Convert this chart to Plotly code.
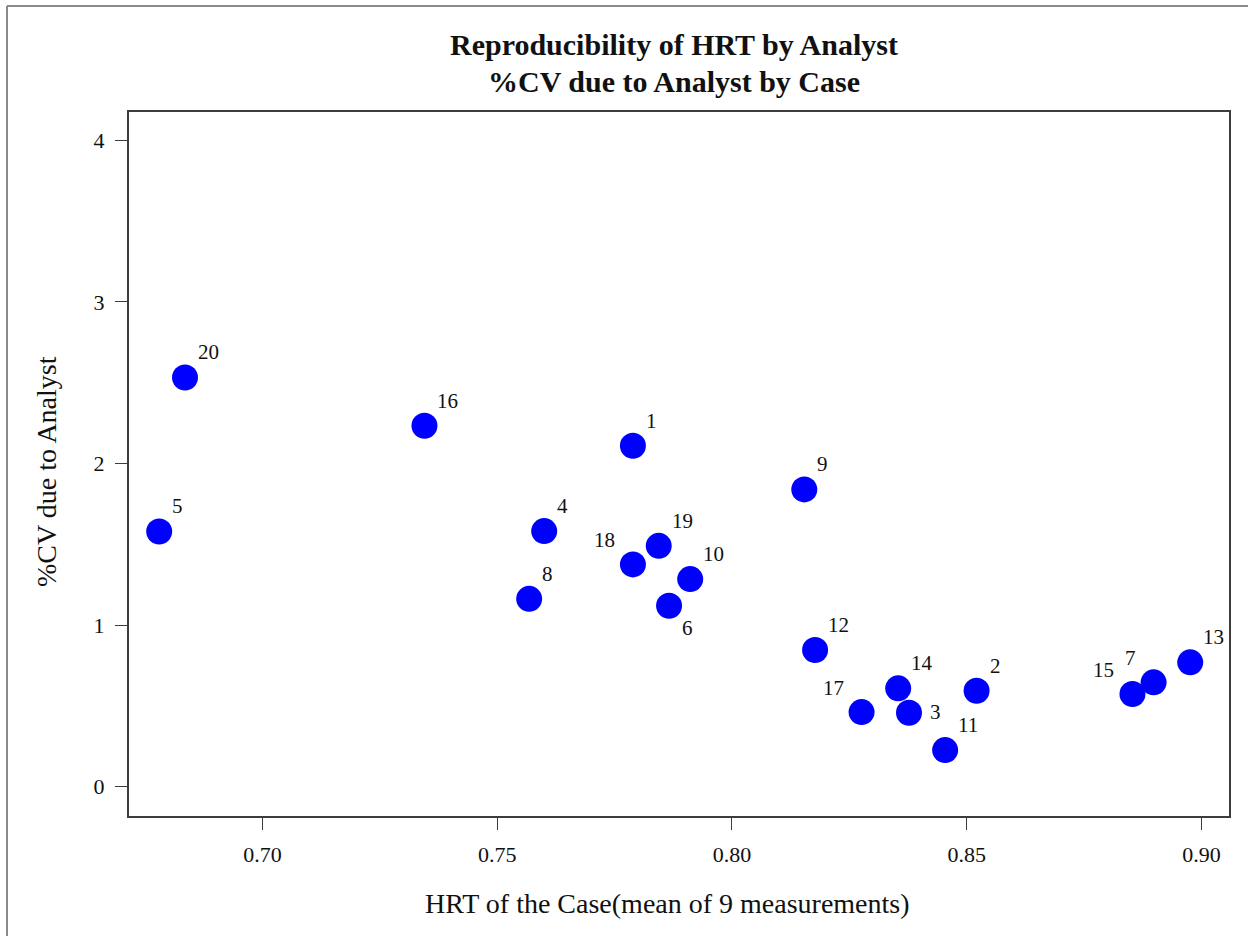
import plotly.graph_objects as go

# Data
case_ids = [20, 5, 16, 1, 4, 8, 18, 19, 10, 6, 9, 12, 17, 14, 3, 11, 2, 15, 7, 13]
hrt_mean = [0.6835, 0.6780, 0.7345, 0.7789, 0.7600, 0.7568, 0.7789, 0.7844, 0.7911, 0.7866,
            0.8154, 0.8177, 0.8276, 0.8354, 0.8377, 0.8454, 0.8521, 0.8853, 0.8898, 0.8976]
cv_analyst = [2.533, 1.580, 2.234, 2.110, 1.582, 1.163, 1.376, 1.491, 1.285, 1.120,
              1.840, 0.846, 0.462, 0.609, 0.458, 0.227, 0.594, 0.574, 0.646, 0.770]
x_ticks = [0.70, 0.75, 0.80, 0.85, 0.90]
y_ticks = [0, 1, 2, 3, 4]

# label placement style per point (ur = upper right, ul = upper left, dr = lower right, r = right)
label_pos = ["ur", "ur", "ur", "ur", "ur", "ur", "ul", "ur", "ur", "dr",
             "ur", "ur", "ul", "ur", "r", "ur", "ur", "ul", "ul", "ur"]
pos_style = {
    "ur": dict(xanchor="left", xshift=11, yshift=25),
    "ul": dict(xanchor="right", xshift=-16, yshift=24),
    "dr": dict(xanchor="left", xshift=11, yshift=-22),
    "r": dict(xanchor="left", xshift=19, yshift=1),
}

FONT = "Liberation Serif, Times New Roman, serif"
INK = "#111111"

fig = go.Figure()
fig.add_trace(go.Scatter(
    x=hrt_mean, y=cv_analyst, mode="markers",
    marker=dict(size=26, color="#0000FF", line=dict(width=0)),
    hoverinfo="skip", showlegend=False,
))

annotations = []
for cid, xv, yv, p in zip(case_ids, hrt_mean, cv_analyst, label_pos):
    st = pos_style[p]
    annotations.append(dict(
        x=xv, y=yv, xref="x", yref="y", text=str(cid), showarrow=False,
        xanchor=st["xanchor"], yanchor="middle", xshift=st["xshift"], yshift=st["yshift"],
        font=dict(family=FONT, size=21, color=INK),
    ))

# titles (paper coords: plot area spans x 129..1229 px, y 112..816 px)
annotations += [
    dict(x=0.4955, y=1 + (112 - 45) / 704, xref="paper", yref="paper", showarrow=False,
         text="<b>Reproducibility of HRT by Analyst</b>", xanchor="center", yanchor="middle",
         font=dict(family=FONT, size=30, color=INK)),
    dict(x=0.4955, y=1 + (112 - 82) / 704, xref="paper", yref="paper", showarrow=False,
         text="<b>%CV due to Analyst by Case</b>", xanchor="center", yanchor="middle",
         font=dict(family=FONT, size=30, color=INK)),
    dict(x=0.4895, y=(816 - 903) / 704, xref="paper", yref="paper", showarrow=False,
         text="HRT of the Case(mean of 9 measurements)", xanchor="center", yanchor="middle",
         font=dict(family=FONT, size=28, color=INK)),
    dict(x=(46 - 129) / 1100, y=(816 - 472) / 704, xref="paper", yref="paper", showarrow=False,
         text="%CV due to Analyst", textangle=-90, xanchor="center", yanchor="middle",
         font=dict(family=FONT, size=28, color=INK)),
]

fig.update_layout(
    width=1248, height=936,
    margin=dict(l=129, r=19, t=112, b=120, autoexpand=False),
    paper_bgcolor="white", plot_bgcolor="white",
    annotations=annotations,
    shapes=[
        dict(type="line", xref="paper", yref="paper",
             x0=(7 - 129) / 1100, x1=(7 - 129) / 1100, y0=(816 - 940) / 704, y1=(816 - 6) / 704,
             line=dict(color="#8a8a8a", width=2)),
        dict(type="line", xref="paper", yref="paper",
             x0=(7 - 129) / 1100, x1=(1250 - 129) / 1100, y0=(816 - 6) / 704, y1=(816 - 6) / 704,
             line=dict(color="#8a8a8a", width=2)),
    ],
    xaxis=dict(
        range=[0.67157, 0.90586], tickvals=x_ticks,
        ticktext=[f"{v:.2f}" for v in x_ticks],
        showgrid=False, zeroline=False, showline=True, mirror=True,
        linecolor="#3c3c3c", linewidth=2, ticks="outside", ticklen=12, tickwidth=1,
        tickcolor="#3c3c3c", tickfont=dict(family=FONT, size=22, color=INK),
        ticklabelstandoff=6,
    ),
    yaxis=dict(
        range=[-0.181, 4.1757], tickvals=y_ticks, ticktext=[str(v) for v in y_ticks],
        showgrid=False, zeroline=False, showline=True, mirror=True,
        linecolor="#3c3c3c", linewidth=2, ticks="outside", ticklen=12, tickwidth=1,
        tickcolor="#3c3c3c", tickfont=dict(family=FONT, size=22, color=INK),
        ticklabelstandoff=6,
    ),
)

fig.write_html(
    "out.html",
    config={"displayModeBar": False},
    post_script="document.body.style.margin='0';document.body.style.padding='0';"
                "document.body.style.overflow='hidden';",
)
